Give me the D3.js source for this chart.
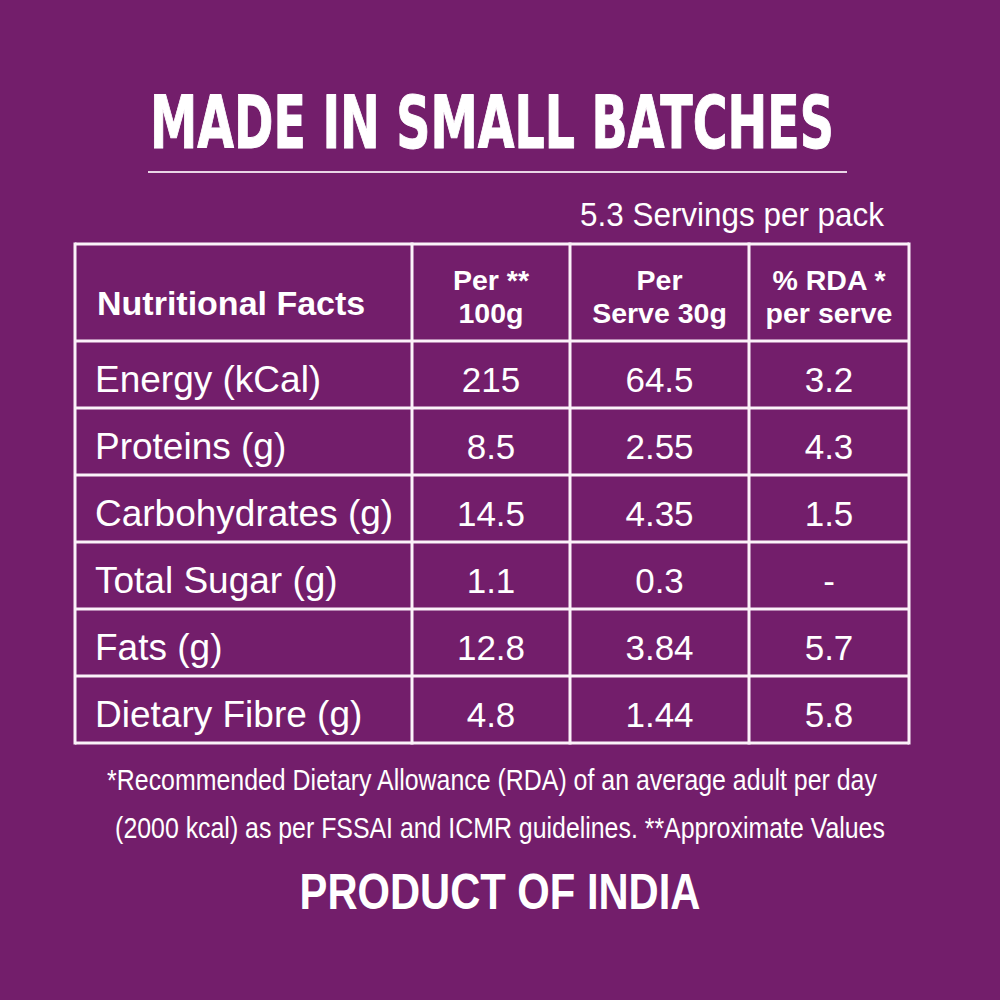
<!DOCTYPE html>
<html>
<head>
<meta charset="utf-8">
<script src="https://cdn.jsdelivr.net/npm/d3@7"></script>
<style>
  html, body { margin: 0; padding: 0; background: #731e6b; }
  svg text { fill: #ffffff; }
</style>
</head>
<body>
<svg id="panel" width="1000" height="1000"></svg>
<script>
// table contents
const nutrients = ["Energy (kCal)", "Proteins (g)", "Carbohydrates (g)", "Total Sugar (g)", "Fats (g)", "Dietary Fibre (g)"];
const per100g = ["215", "8.5", "14.5", "1.1", "12.8", "4.8"];
const perServe = ["64.5", "2.55", "4.35", "0.3", "3.84", "1.44"];
const rdaPerServe = ["3.2", "4.3", "1.5", "-", "5.7", "5.8"];
const headerLines = [["Nutritional Facts"], ["Per **", "100g"], ["Per", "Serve 30g"], ["% RDA *", "per serve"]];

const title = "MADE IN SMALL BATCHES";
const servings = "5.3 Servings per pack";
const footnote = ["*Recommended Dietary Allowance (RDA) of an average adult per day",
                  "(2000 kcal) as per FSSAI and ICMR guidelines. **Approximate Values"];
const origin = "PRODUCT OF INDIA";

const svg = d3.select("#panel");

svg.append("rect").attr("width", 1000).attr("height", 1000).attr("fill", "#731e6b");

// squeeze a text horizontally so it spans the given width (condensed look)
function squeeze(sel, width) {
    const node = sel.node();
    const w = node.getComputedTextLength();
    const x = +sel.attr("x");
    const k = Math.min(1, width / w);
    sel.attr("transform", `translate(${x},0) scale(${k},1) translate(${-x},0)`);
}

// title with underline
const titleText = svg.append("text")
    .attr("x", 492).attr("y", 148)
    .attr("text-anchor", "middle")
    .attr("font-family", "'DejaVu Sans Condensed', 'DejaVu Sans', sans-serif")
    .attr("font-weight", "bold")
    .attr("font-size", "73px")
    .attr("stroke", "#ffffff").attr("stroke-width", 1).attr("stroke-linejoin", "round")
    .text(title);
squeeze(titleText, 684);

svg.append("line")
    .attr("x1", 148).attr("x2", 847)
    .attr("y1", 172).attr("y2", 172)
    .attr("stroke", "#e9d6e6").attr("stroke-width", 2);

const servText = svg.append("text")
    .attr("x", 884).attr("y", 226)
    .attr("text-anchor", "end")
    .attr("font-family", "'Liberation Sans', Arial, sans-serif")
    .attr("font-size", "33px")
    .text(servings);
squeeze(servText, 304);

// table layout
const colEdges = [75, 412, 570, 749, 909];
const tableTop = 244, headerBottom = 341, tableBottom = 743;

const rows = nutrients.map((n, i) => [n, per100g[i], perServe[i], rdaPerServe[i]]);

const y = d3.scaleBand()
    .domain(d3.range(nutrients.length))
    .range([headerBottom, tableBottom]);

const colX = i => colEdges[i];
const colMid = i => (colEdges[i] + colEdges[i + 1]) / 2;

const table = svg.append("g").attr("id", "table");

// header cells
const head = table.append("g").attr("class", "header");
headerLines.forEach((lines, c) => {
    const t = head.append("text")
        .attr("font-family", "'Liberation Sans', Arial, sans-serif")
        .attr("font-weight", "bold")
        .attr("text-anchor", c === 0 ? "start" : "middle");
    if (lines.length === 1) {
        t.attr("x", colX(c) + 22).attr("y", 315)
            .attr("font-size", "34px")
            .text(lines[0]);
        squeeze(t, 283);
    } else {
        t.attr("font-size", "28.5px");
        lines.forEach((ln, k) => {
            t.append("tspan")
                .attr("x", colMid(c))
                .attr("y", 290 + k * 33)
                .text(ln);
        });
    }
});

// body cells
const rowG = table.selectAll("g.row")
    .data(rows)
    .join("g")
    .attr("class", "row")
    .attr("transform", (d, i) => `translate(0, ${y(i) + y.bandwidth() / 2})`);

rowG.selectAll("text")
    .data(d => d)
    .join("text")
    .attr("x", (d, c) => c === 0 ? colX(0) + 20 : colMid(c))
    .attr("y", 17)
    .attr("text-anchor", (d, c) => c === 0 ? "start" : "middle")
    .attr("font-family", "'Liberation Sans', Arial, sans-serif")
    .attr("font-size", (d, c) => c === 0 ? "37px" : "35px")
    .text(d => d);

// grid lines
const hLines = [tableTop, headerBottom].concat(d3.range(1, nutrients.length + 1).map(i => y(i - 1) + y.bandwidth()));
table.selectAll("line.h")
    .data(hLines)
    .join("line")
    .attr("class", "h")
    .attr("x1", colEdges[0]).attr("x2", colEdges[colEdges.length - 1])
    .attr("y1", d => d).attr("y2", d => d)
    .attr("stroke", "#fbf2f9").attr("stroke-width", 3);

table.selectAll("line.v")
    .data(colEdges)
    .join("line")
    .attr("class", "v")
    .attr("x1", d => d).attr("x2", d => d)
    .attr("y1", tableTop - 1.5).attr("y2", tableBottom + 1.5)
    .attr("stroke", "#fbf2f9").attr("stroke-width", 3);

// footnotes
const noteCentres = [492, 500];
svg.selectAll("text.note")
    .data(footnote)
    .join("text")
    .attr("class", "note")
    .attr("x", (d, i) => noteCentres[i])
    .attr("y", (d, i) => 790 + i * 48)
    .attr("text-anchor", "middle")
    .attr("font-family", "'Liberation Sans', Arial, sans-serif")
    .attr("font-size", "29.5px")
    .text(d => d)
    .each(function () { squeeze(d3.select(this), 770); });

const originText = svg.append("text")
    .attr("x", 500).attr("y", 909)
    .attr("text-anchor", "middle")
    .attr("font-family", "'Liberation Sans', Arial, sans-serif")
    .attr("font-weight", "bold")
    .attr("font-size", "50px")
    .text(origin);
squeeze(originText, 401);
</script>
</body>
</html>
